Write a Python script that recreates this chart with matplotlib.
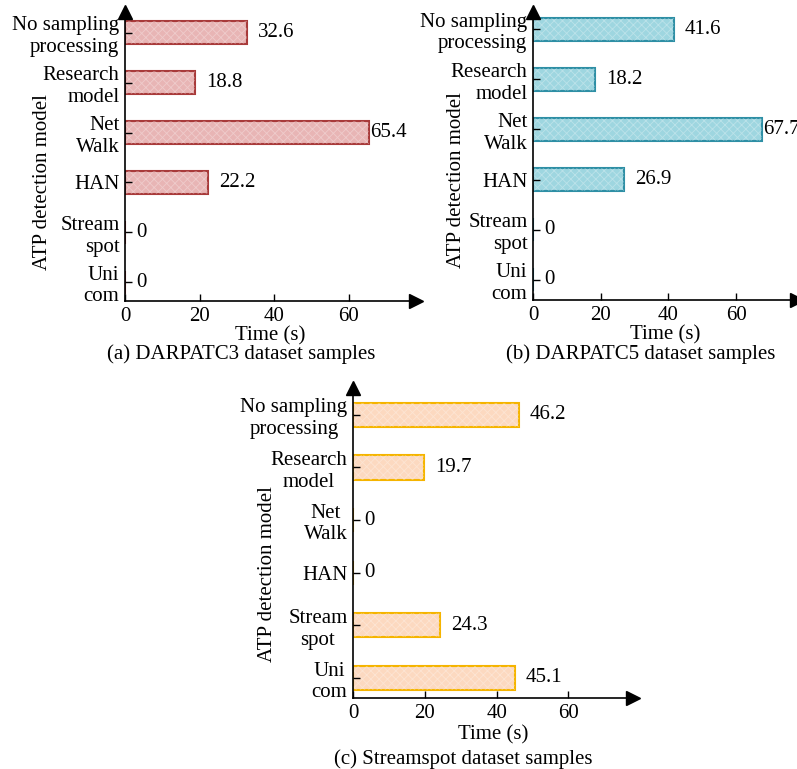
import matplotlib.pyplot as plt
import numpy as np

plt.rcParams['font.family'] = ['Liberation Serif', 'DejaVu Serif']
plt.rcParams['font.size'] = 15
plt.rcParams['hatch.linewidth'] = 0.6

models = ["No sampling\nprocessing", "Research\nmodel", "Net\nWalk", "HAN",
          "Stream\nspot", "Uni\ncom"]
darpatc3 = [32.6, 18.8, 65.4, 22.2, 0, 0]
darpatc5 = [41.6, 18.2, 67.7, 26.9, 0, 0]
streamspot = [46.2, 19.7, 0, 0, 24.3, 45.1]
xticks = [0, 20, 40, 60]
captions = ["(a) DARPATC3 dataset samples", "(b) DARPATC5 dataset samples",
            "(c) Streamspot dataset samples"]

W, H = 797, 769
fig = plt.figure(figsize=(W / 100, H / 100), dpi=100)


def px_axes(l, t, r, b):
    return fig.add_axes([l / W, 1 - b / H, (r - l) / W, (b - t) / H])


def panel(ax, values, fill, edge, ylim, ylab_xy, align="right"):
    y = np.arange(len(models))[::-1]
    bars = ax.barh(y, values, height=0.46, color=fill, edgecolor=edge, linewidth=1.5)
    # faint checker texture on top of the fill
    ax.barh(y, values, height=0.46, color="none", edgecolor="white",
            hatch="xxxx", linewidth=0, alpha=0.3)
    for yy, v in zip(y, values):
        pad = 0.5 if v > 60 else 8
        ax.annotate(f"{v:g}", (v, yy), xytext=(pad, 0), textcoords="offset points",
                    ha="left", va="center", fontsize=15)

    ax.set_xlim(0, 78)
    ax.set_ylim(*ylim)
    ax.set_xticks(xticks)
    ax.set_yticks(y)
    ax.set_yticklabels(models, multialignment=align)
    ax.tick_params(direction="in", length=5, width=1, pad=4)

    for s in ["top", "right"]:
        ax.spines[s].set_visible(False)
    for s in ["left", "bottom"]:
        ax.spines[s].set_linewidth(1.2)
    ax.plot(1, 0, ">", color="k", ms=10, transform=ax.transAxes, clip_on=False)
    ax.plot(0, 1, "^", color="k", ms=10, transform=ax.transAxes, clip_on=False)

    ax.set_xlabel("Time (s)")
    ax.xaxis.set_label_coords(0.5, -0.088)
    ax.set_ylabel("ATP detection model")
    ax.yaxis.set_label_coords(*ylab_xy)


ax1 = px_axes(125, 12, 416, 301)
panel(ax1, darpatc3, "#E8B5B5", "#A83A3A", (-0.38, 5.42), (-0.25, 0.41))

ax2 = px_axes(533, 12, 797, 300)
panel(ax2, darpatc5, "#9ED6E0", "#2E8FA5", (-0.4, 5.34), (-0.255, 0.417))

ax3 = px_axes(353, 388, 633, 698)
panel(ax3, streamspot, "#FCD9C0", "#F5B400", (-0.38, 5.51), (-0.271, 0.40), align="center")

for (cx, cy), cap in zip([(241, 354), (641, 354), (463, 759)], captions):
    fig.text(cx / W, 1 - cy / H, cap, ha="center", va="center", fontsize=15)

fig.savefig("out.png", dpi=100)
